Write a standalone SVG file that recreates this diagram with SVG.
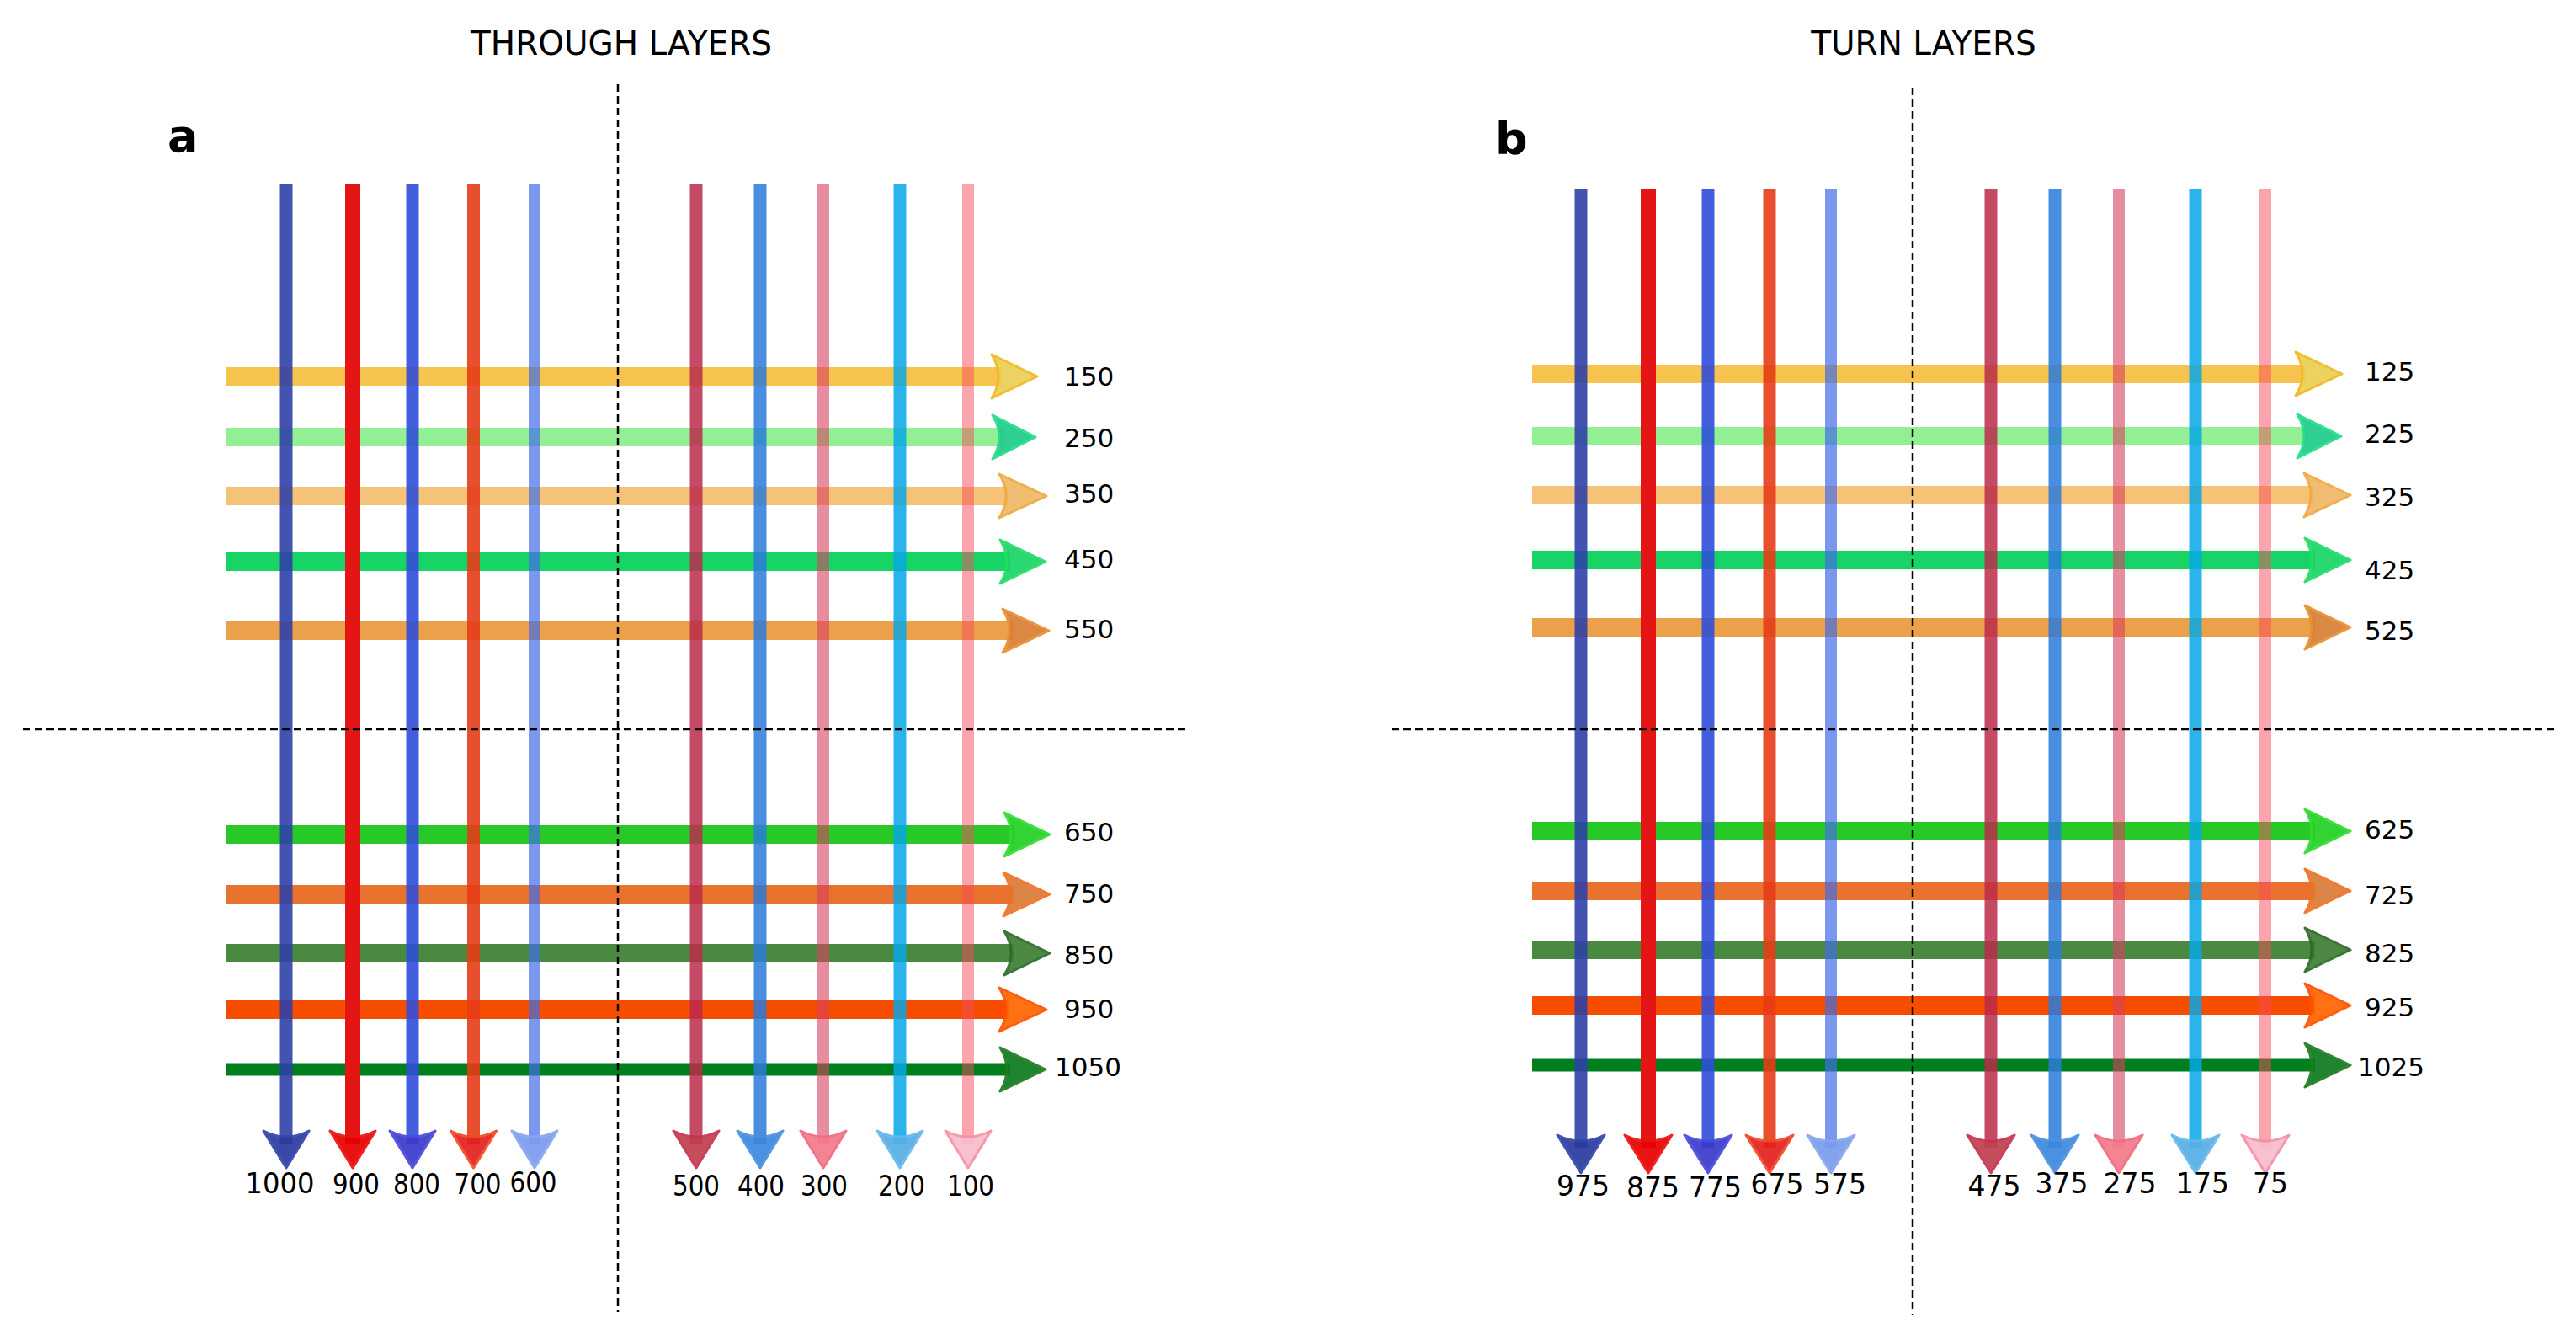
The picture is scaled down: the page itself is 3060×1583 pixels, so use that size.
<svg xmlns="http://www.w3.org/2000/svg" width="3060" height="1583" viewBox="0 0 3060 1583">
<style>
text{font-family:"DejaVu Sans",Verdana,"Liberation Sans",sans-serif;fill:#000}
.title{font-size:39px;text-anchor:middle}
.panel{font-size:54px;font-weight:bold}
.lbl{font-size:31px}
.blbl{font-size:34px;text-anchor:middle}
.blbl2{font-size:33px;text-anchor:middle}
.guide{stroke:#000;stroke-width:2.5;stroke-dasharray:9 5;fill:none}
.ah{stroke-width:3;stroke-linejoin:round;opacity:.92}
.v1{fill:#2f40a7;opacity:.9}.v2{fill:#e41515}.v3{fill:#304ed9;opacity:.9}.v4{fill:#e53c17;opacity:.9}.v5{fill:#416ce7;opacity:.7}
.v6{fill:#ba2a4b;opacity:.85}.v7{fill:#2a7ada;opacity:.85}.v8{fill:#d93f61;opacity:.6}.v9{fill:#06a7e6;opacity:.85}.v10{fill:#f7495d;opacity:.5}
.a1{fill:#2a3a9e;stroke:#3344aa}.a2{fill:#e80000;stroke:#ee1010}.a3{fill:#3a3acc;stroke:#4848dd}.a4{fill:#e42020;stroke:#f04a20}.a5{fill:#7b9bee;stroke:#88a4f0}
.a6{fill:#c0404f;stroke:#c83050}.a7{fill:#3b88dd;stroke:#4a90e0}.a8{fill:#f47a8c;stroke:#f06a80}.a9{fill:#55aee6;stroke:#66b8ee}.a10{fill:#f8bccc;stroke:#f590a5}
.h1{fill:#f6c44e}.h2{fill:#93ef93}.h3{fill:#f5c277}.h4{fill:#18d466}.h5{fill:#eba04a}.h6{fill:#29c829}.h7{fill:#e8722e}.h8{fill:#4a8a40}.h9{fill:#f74d00}.h10{fill:#007f1f}
.r1{fill:#ebd054;stroke:#f0b820}.r2{fill:#1ecb8a;stroke:#22dd88}.r3{fill:#f0b868;stroke:#f0a840}.r4{fill:#18d466;stroke:#22dd66}.r5{fill:#d87e36;stroke:#e89030}
.r6{fill:#22d022;stroke:#30dd30}.r7{fill:#db7a38;stroke:#f07020}.r8{fill:#3f7f35;stroke:#2a6a2a}.r9{fill:#ff6600;stroke:#ff5000}.r10{fill:#0c7a1e;stroke:#207a20}
</style>

<text class="title" x="738" y="65">THROUGH LAYERS</text>
<text class="title" x="2285" y="65">TURN LAYERS</text>
<text class="panel" x="199" y="180">a</text>
<text class="panel" x="1776" y="183">b</text>

<!-- Panel a horizontal arrows -->
<g id="a-h150"><rect class="h1" x="268" y="436" width="922" height="22"/><path class="ah r1" d="M1178,421 Q1194,447 1178,473 L1232,447 Z"/><text class="lbl" x="1264" y="458">150</text></g>
<g id="a-h250"><rect class="h2" x="268" y="508" width="923" height="22"/><path class="ah r2" d="M1179,493 Q1195,519 1179,545 L1230,519 Z"/><text class="lbl" x="1264" y="531">250</text></g>
<g id="a-h350"><rect class="h3" x="268" y="578" width="931" height="22"/><path class="ah r3" d="M1187,563 Q1203,589 1187,615 L1243,589 Z"/><text class="lbl" x="1264" y="597">350</text></g>
<g id="a-h450"><rect class="h4" x="268" y="656" width="932" height="22"/><path class="ah r4" d="M1188,641 Q1204,667 1188,693 L1242,667 Z"/><text class="lbl" x="1264" y="675">450</text></g>
<g id="a-h550"><rect class="h5" x="268" y="738" width="935" height="22"/><path class="ah r5" d="M1191,723 Q1207,749 1191,775 L1246,749 Z"/><text class="lbl" x="1264" y="758">550</text></g>
<g id="a-h650"><rect class="h6" x="268" y="980" width="937" height="22"/><path class="ah r6" d="M1193,965 Q1209,991 1193,1017 L1247,991 Z"/><text class="lbl" x="1264" y="999">650</text></g>
<g id="a-h750"><rect class="h7" x="268" y="1051" width="936" height="22"/><path class="ah r7" d="M1192,1036 Q1208,1062 1192,1088 L1247,1062 Z"/><text class="lbl" x="1264" y="1072">750</text></g>
<g id="a-h850"><rect class="h8" x="268" y="1121" width="937" height="22"/><path class="ah r8" d="M1193,1106 Q1209,1132 1193,1158 L1247,1132 Z"/><text class="lbl" x="1264" y="1145">850</text></g>
<g id="a-h950"><rect class="h9" x="268" y="1188" width="931" height="22"/><path class="ah r9" d="M1187,1173 Q1203,1199 1187,1225 L1243,1199 Z"/><text class="lbl" x="1264" y="1209">950</text></g>
<g id="a-h1050"><rect class="h10" x="268" y="1262.5" width="932" height="15"/><path class="ah r10" d="M1188,1244 Q1204,1270 1188,1296 L1242,1270 Z"/><text class="lbl" x="1253" y="1278">1050</text></g>

<!-- Panel b horizontal arrows -->
<g id="b-h125"><rect class="h1" x="1820" y="433" width="919" height="22"/><path class="ah r1" d="M2727,418 Q2743,444 2727,470 L2782,444 Z"/><text class="lbl" x="2809" y="452">125</text></g>
<g id="b-h225"><rect class="h2" x="1820" y="507" width="921" height="22"/><path class="ah r2" d="M2729,492 Q2745,518 2729,544 L2781,518 Z"/><text class="lbl" x="2809" y="526">225</text></g>
<g id="b-h325"><rect class="h3" x="1820" y="577" width="929" height="22"/><path class="ah r3" d="M2737,562 Q2753,588 2737,614 L2792,588 Z"/><text class="lbl" x="2809" y="601">325</text></g>
<g id="b-h425"><rect class="h4" x="1820" y="654" width="930" height="22"/><path class="ah r4" d="M2738,639 Q2754,665 2738,691 L2792,665 Z"/><text class="lbl" x="2809" y="688">425</text></g>
<g id="b-h525"><rect class="h5" x="1820" y="734" width="930" height="22"/><path class="ah r5" d="M2738,719 Q2754,745 2738,771 L2792,745 Z"/><text class="lbl" x="2809" y="760">525</text></g>
<g id="b-h625"><rect class="h6" x="1820" y="976" width="930" height="22"/><path class="ah r6" d="M2738,961 Q2754,987 2738,1013 L2792,987 Z"/><text class="lbl" x="2809" y="996">625</text></g>
<g id="b-h725"><rect class="h7" x="1820" y="1047" width="930" height="22"/><path class="ah r7" d="M2738,1032 Q2754,1058 2738,1084 L2792,1058 Z"/><text class="lbl" x="2809" y="1074">725</text></g>
<g id="b-h825"><rect class="h8" x="1820" y="1117" width="930" height="22"/><path class="ah r8" d="M2738,1102 Q2754,1128 2738,1154 L2792,1128 Z"/><text class="lbl" x="2809" y="1143">825</text></g>
<g id="b-h925"><rect class="h9" x="1820" y="1183" width="930" height="22"/><path class="ah r9" d="M2738,1168 Q2754,1194 2738,1220 L2792,1194 Z"/><text class="lbl" x="2809" y="1207">925</text></g>
<g id="b-h1025"><rect class="h10" x="1820" y="1257.5" width="930" height="15"/><path class="ah r10" d="M2738,1239 Q2754,1265 2738,1291 L2792,1265 Z"/><text class="lbl" x="2801" y="1278">1025</text></g>

<!-- Panel a vertical arrows -->
<g id="a-v1000"><rect class="v1" x="332.5" y="218" width="15" height="1140"/><path class="ah a1" d="M313,1343 Q340,1357 367,1343 L340,1387 Z"/><text class="blbl" x="332.5" y="1417" textLength="82" lengthAdjust="spacingAndGlyphs">1000</text></g>
<g id="a-v900"><rect class="v2" x="410" y="218" width="18" height="1140"/><path class="ah a2" d="M392,1343 Q419,1357 446,1343 L419,1387 Z"/><text class="blbl" x="423" y="1418" textLength="56" lengthAdjust="spacingAndGlyphs">900</text></g>
<g id="a-v800"><rect class="v3" x="482.5" y="218" width="15" height="1140"/><path class="ah a3" d="M463,1343 Q490,1357 517,1343 L490,1387 Z"/><text class="blbl" x="495" y="1418" textLength="56" lengthAdjust="spacingAndGlyphs">800</text></g>
<g id="a-v700"><rect class="v4" x="555" y="218" width="15" height="1140"/><path class="ah a4" d="M535.5,1343 Q562.5,1357 589.5,1343 L562.5,1387 Z"/><text class="blbl" x="567.5" y="1418" textLength="56" lengthAdjust="spacingAndGlyphs">700</text></g>
<g id="a-v600"><rect class="v5" x="628" y="218" width="14" height="1140"/><path class="ah a5" d="M608,1343 Q635,1357 662,1343 L635,1387 Z"/><text class="blbl" x="633.5" y="1416" textLength="56" lengthAdjust="spacingAndGlyphs">600</text></g>
<g id="a-v500"><rect class="v6" x="819.5" y="218" width="15" height="1140"/><path class="ah a6" d="M800,1343 Q827,1357 854,1343 L827,1387 Z"/><text class="blbl" x="827" y="1420" textLength="56" lengthAdjust="spacingAndGlyphs">500</text></g>
<g id="a-v400"><rect class="v7" x="895.5" y="218" width="15" height="1140"/><path class="ah a7" d="M876,1343 Q903,1357 930,1343 L903,1387 Z"/><text class="blbl" x="904" y="1420" textLength="56" lengthAdjust="spacingAndGlyphs">400</text></g>
<g id="a-v300"><rect class="v8" x="971" y="218" width="14" height="1140"/><path class="ah a8" d="M951,1343 Q978,1357 1005,1343 L978,1387 Z"/><text class="blbl" x="979" y="1420" textLength="56" lengthAdjust="spacingAndGlyphs">300</text></g>
<g id="a-v200"><rect class="v9" x="1061.5" y="218" width="15" height="1140"/><path class="ah a9" d="M1042,1343 Q1069,1357 1096,1343 L1069,1387 Z"/><text class="blbl" x="1071" y="1420" textLength="56" lengthAdjust="spacingAndGlyphs">200</text></g>
<g id="a-v100"><rect class="v10" x="1143" y="218" width="14" height="1140"/><path class="ah a10" d="M1123,1343 Q1150,1357 1177,1343 L1150,1387 Z"/><text class="blbl" x="1153" y="1420" textLength="56" lengthAdjust="spacingAndGlyphs">100</text></g>

<!-- Panel b vertical arrows -->
<g id="b-v975"><rect class="v1" x="1870.5" y="224" width="15" height="1139"/><path class="ah a1" d="M1850,1348 Q1878,1362 1906,1348 L1878,1393 Z"/><text class="blbl2" x="1880.5" y="1420">975</text></g>
<g id="b-v875"><rect class="v2" x="1949" y="224" width="18" height="1139"/><path class="ah a2" d="M1930,1348 Q1958,1362 1986,1348 L1958,1393 Z"/><text class="blbl2" x="1963.5" y="1422">875</text></g>
<g id="b-v775"><rect class="v3" x="2021.5" y="224" width="15" height="1139"/><path class="ah a3" d="M2001,1348 Q2029,1362 2057,1348 L2029,1393 Z"/><text class="blbl2" x="2037.5" y="1422">775</text></g>
<g id="b-v675"><rect class="v4" x="2094.5" y="224" width="15" height="1139"/><path class="ah a4" d="M2074,1348 Q2102,1362 2130,1348 L2102,1393 Z"/><text class="blbl2" x="2111" y="1418">675</text></g>
<g id="b-v575"><rect class="v5" x="2168" y="224" width="14" height="1139"/><path class="ah a5" d="M2147,1348 Q2175,1362 2203,1348 L2175,1393 Z"/><text class="blbl2" x="2185.5" y="1418">575</text></g>
<g id="b-v475"><rect class="v6" x="2357.5" y="224" width="15" height="1139"/><path class="ah a6" d="M2337,1348 Q2365,1362 2393,1348 L2365,1393 Z"/><text class="blbl2" x="2369" y="1420">475</text></g>
<g id="b-v375"><rect class="v7" x="2433.5" y="224" width="15" height="1139"/><path class="ah a7" d="M2413,1348 Q2441,1362 2469,1348 L2441,1393 Z"/><text class="blbl2" x="2449" y="1417">375</text></g>
<g id="b-v275"><rect class="v8" x="2510" y="224" width="14" height="1139"/><path class="ah a8" d="M2489,1348 Q2517,1362 2545,1348 L2517,1393 Z"/><text class="blbl2" x="2530" y="1417">275</text></g>
<g id="b-v175"><rect class="v9" x="2600.5" y="224" width="15" height="1139"/><path class="ah a9" d="M2580,1348 Q2608,1362 2636,1348 L2608,1393 Z"/><text class="blbl2" x="2616.5" y="1417">175</text></g>
<g id="b-v75"><rect class="v10" x="2684" y="224" width="14" height="1139"/><path class="ah a10" d="M2663,1348 Q2691,1362 2719,1348 L2691,1393 Z"/><text class="blbl2" x="2697" y="1417">75</text></g>

<!-- dashed guides -->
<g id="connectors">
<line class="guide" x1="734" y1="100" x2="734" y2="1558"/>
<line class="guide" x1="27" y1="866" x2="1409" y2="866"/>
<line class="guide" x1="2272" y1="104" x2="2272" y2="1562"/>
<line class="guide" x1="1653" y1="866" x2="3035" y2="866"/>
</g>
</svg>
